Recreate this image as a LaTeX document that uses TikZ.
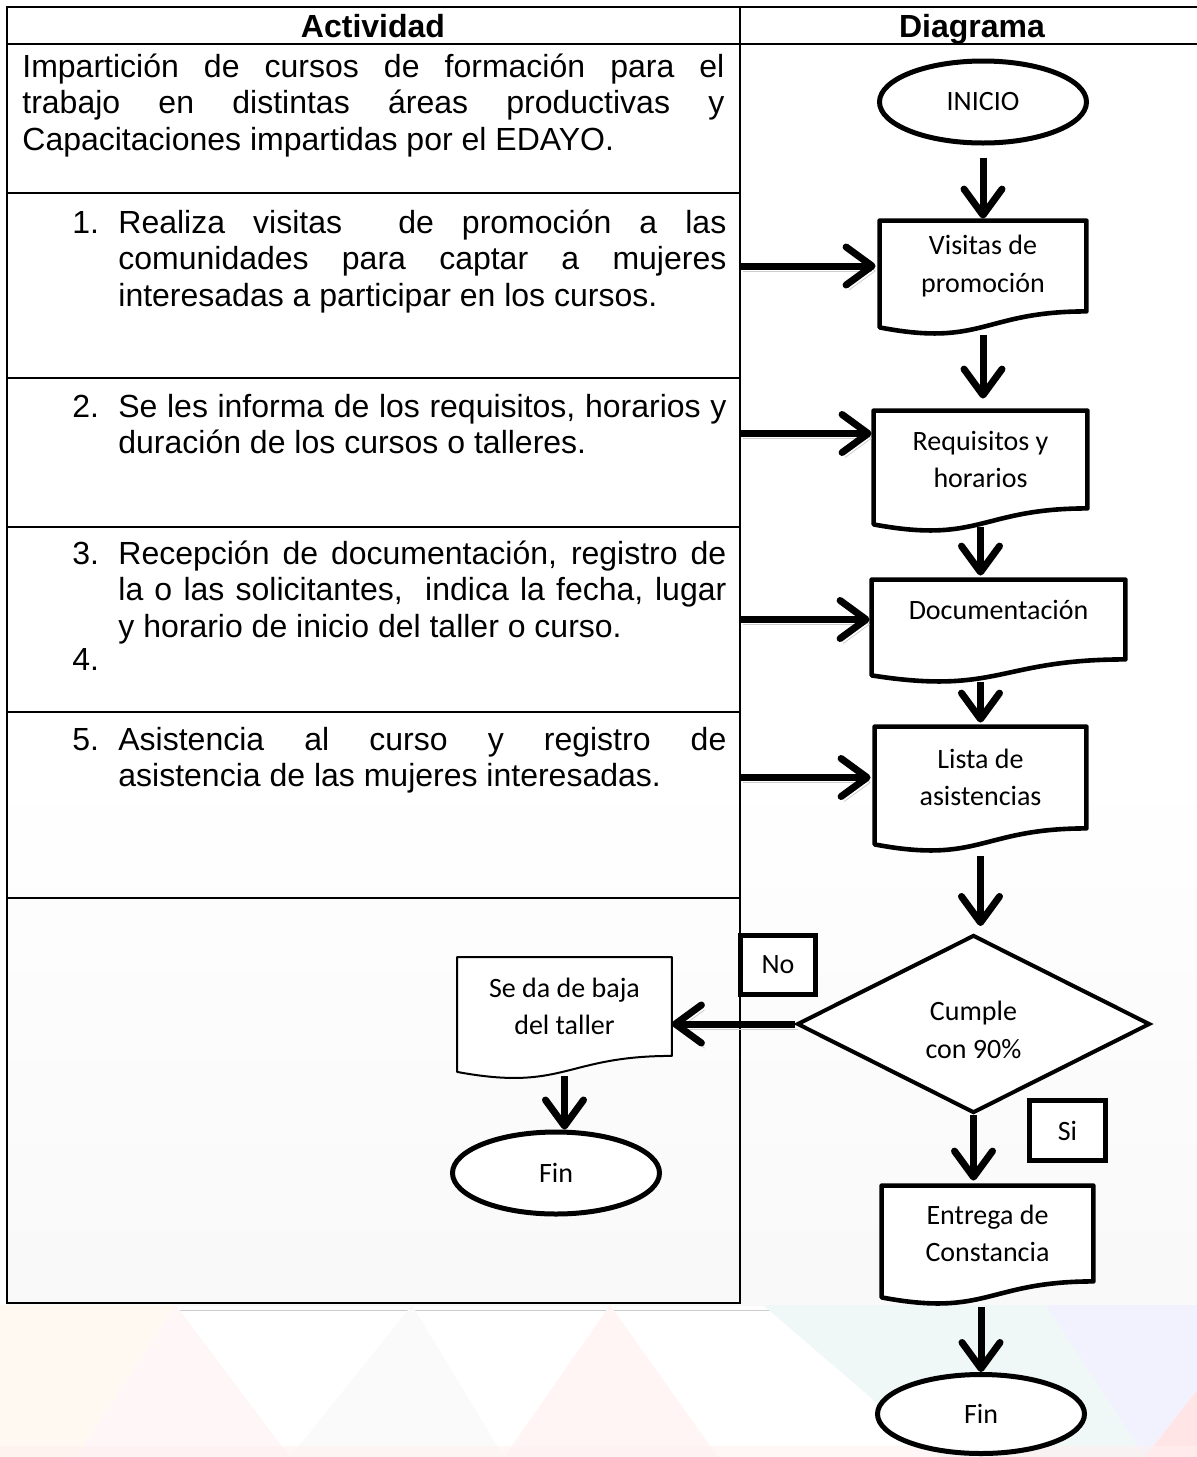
\documentclass[tikz,border=0pt]{standalone}
\usepackage{fontspec}
\setmainfont{Liberation Sans}
\newfontfamily\calibri{Carlito}
\usetikzlibrary{arrows.meta,shapes.geometric}

\newcommand{\docline}[2][line width=2.3pt]{%
  \draw[#1,line join=round,fill=white] ([yshift=-8pt]#2.south west) -- (#2.north west) -- (#2.north east) -- (#2.south east)
    .. controls (#2.south) and ([yshift=-18pt]#2.south) .. ([yshift=-8pt]#2.south west) -- cycle;}

\begin{document}
\begin{tikzpicture}[x=0.5pt,y=-0.5pt,
  cell/.style={anchor=base west,inner sep=0pt,font=\fontsize{16pt}{18.4pt}\selectfont},
  item/.style={cell,text width=304pt,align=justify},
  head/.style={anchor=base,inner sep=0pt,font=\bfseries\fontsize{16pt}{18.4pt}\selectfont},
  flowtext/.style={font=\calibri\fontsize{14pt}{18.8pt}\selectfont,align=center,inner sep=0pt},
  docbox/.style={flowtext,rectangle},
  term/.style={flowtext,ellipse,draw,fill=white,line width=2.5pt,minimum width=103.5pt,minimum height=41pt},
  tag/.style={flowtext,draw,fill=white,line width=2.3pt,minimum width=37.5pt,minimum height=29.5pt},
  flow/.style={line width=3.5pt,-{Straight Barb[length=13pt,width=19pt,round]}},
  shade/.style={preaction={draw=black!20,transform canvas={xshift=1.5pt,yshift=-2.5pt}}}]
\useasboundingbox (0,0) rectangle (1197,1457);

\shade[top color=white,bottom color=gray!5] (7,760) rectangle (1197,1305);
\fill[orange!5] (0,1305) -- (176,1305) -- (76,1457) -- (0,1457) -- cycle;
\fill[red!3] (176,1305) -- (290,1457) -- (76,1457) -- cycle;
\fill[gray!4] (412,1305) -- (504,1457) -- (290,1457) -- cycle;
\fill[red!4] (610,1305) -- (718,1457) -- (504,1457) -- cycle;
\fill[teal!6] (763,1305) -- (1046,1305) -- (1145,1457) -- (940,1457) -- cycle;
\fill[blue!5] (1046,1305) -- (1197,1305) -- (1197,1390) -- (1145,1457) -- cycle;
\fill[red!10] (1197,1390) -- (1197,1457) -- (1145,1457) -- cycle;
\fill[red!6,opacity=0.6] (0,1446) rectangle (1197,1457);

\draw[line width=1pt] (7,7) -- (1197,7) (7,44) -- (1197,44);
\draw[line width=1pt] (740,7) -- (7,7) -- (7,1303) -- (740,1303) -- (740,7);
\foreach \y in {193,378,527,712,898} \draw[line width=1pt] (7,\y) -- (740,\y);
\coordinate (mid) at (740,0);

\node[head] (act) at (373,37) {Actividad};
\node[head] (diag) at (972,37) {Diagrama};

\node[cell,text width=351pt,align=justify] (intro) at (22,77) {Impartición de cursos de formación para el\linebreak trabajo en distintas áreas productivas y\linebreak Capacitaciones impartidas por el EDAYO.};
\node[cell] (n1) at (72,233) {1.};
\node[item] (t1) at (118,233) {Realiza visitas\ \ de promoción a las\linebreak comunidades para captar a mujeres\linebreak interesadas a participar en los cursos.};
\node[cell] (n2) at (72,417) {2.};
\node[item] (t2) at (118,417) {Se les informa de los requisitos, horarios y\linebreak duración de los cursos o talleres.};
\node[cell] (n3) at (72,564) {3.};
\node[item] (t3) at (118,564) {Recepción de documentación, registro de\linebreak la o las solicitantes,\ \ indica la fecha, lugar\linebreak y horario de inicio del taller o curso.};
\node[cell] (n4) at (72,670) {4.};
\node[cell] (n5) at (72,750) {5.};
\node[item] (t5) at (118,750) {Asistencia al curso y registro de\linebreak asistencia de las mujeres interesadas.};

\node[term] (inicio) at (983,102) {INICIO};
\node[docbox,minimum width=103pt,minimum height=45pt] (visitas) at (983,266) {};
\node[docbox,minimum width=106.5pt,minimum height=48.5pt] (requisitos) at (980.5,459.5) {};
\node[docbox,minimum width=126.5pt,minimum height=39.5pt] (documentacion) at (998.5,619.5) {};
\node[docbox,minimum width=105.5pt,minimum height=50.5pt] (lista) at (980.5,777.5) {};
\node[docbox,minimum width=105.5pt,minimum height=47.5pt] (entrega) at (987.5,1233.5) {};
\node[docbox,minimum width=107pt,minimum height=49pt] (baja) at (564.5,1006.5) {};
\docline{visitas}
\docline{requisitos}
\docline{documentacion}
\docline{lista}
\docline{entrega}
\docline[line width=1pt]{baja}
\node[flowtext] at (visitas) {Visitas de\\promoción};
\node[flowtext] at (requisitos) {Requisitos y\\horarios};
\node[flowtext,yshift=5pt] at (documentacion) {Documentación};
\node[flowtext] at (lista) {Lista de\\asistencias};
\node[flowtext] at (entrega) {Entrega de\\Constancia};
\node[flowtext] at (baja) {Se da de baja\\del taller};

\node[diamond,draw,fill=white,line width=2pt,inner sep=0pt,minimum width=176.5pt,minimum height=89pt] (cumple) at (973.5,1024) {};
\node[flowtext,yshift=-3pt] at (cumple) {Cumple\\con 90\%};
\node[tag] (no) at (778,965) {No};
\node[tag,minimum width=38pt,minimum height=30pt] (si) at (1067.5,1130.5) {Si};
\node[term] (finA) at (556,1173) {Fin};
\node[term,minimum height=39.5pt] (finB) at (981,1414) {Fin};

\draw[flow,shade,shorten >=2pt] (mid |- visitas.west) -- (visitas.west);
\coordinate (reqin) at ([yshift=13pt]requisitos.west);
\draw[flow,shade,shorten >=1pt] (mid |- reqin) -- (reqin);
\draw[flow,shade,shorten >=1pt] (mid |- documentacion.west) -- (documentacion.west);
\draw[flow,shade,shorten >=2pt] (mid |- lista.west) -- (lista.west);

\draw[flow,shorten <=6pt,shorten >=1pt] (inicio.south) -- (inicio.south |- visitas.north);
\draw[flow,shorten <=12pt,shorten >=6pt] (visitas.south) -- (visitas.south |- requisitos.north);
\draw[flow,shorten <=9.5pt,shorten >=2pt] (requisitos.south) -- (requisitos.south |- documentacion.north);
\draw[flow,shorten <=11.5pt,shorten >=2pt] (lista.north |- documentacion.south) -- (lista.north);
\draw[flow,shorten <=14pt,shorten >=3.5pt] (lista.south) -- (lista.south |- cumple.north);
\draw[flow,shorten >=2.5pt] (cumple.south) -- (cumple.south |- entrega.north);
\draw[flow,shorten <=13pt] (finB.north |- entrega.south) -- (finB.north);
\draw[flow,shade] (cumple.west) -- (cumple.west -| baja.east);
\draw[flow,shorten <=10pt] (baja.south) -- (baja.south |- finA.north);

\end{tikzpicture}
\end{document}
